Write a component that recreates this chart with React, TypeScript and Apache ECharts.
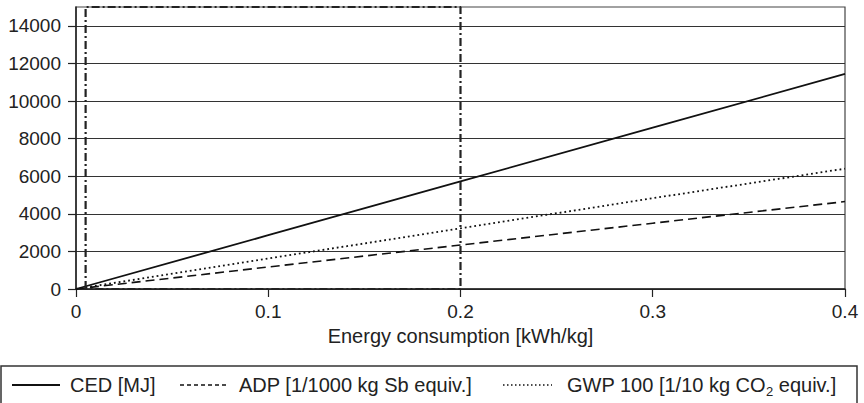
import React, { useEffect, useRef } from "react";
import * as echarts from "echarts";

// Energy consumption [kWh/kg]
const xValues = [0, 0.1, 0.2, 0.3, 0.4];
const cedValues = [0, 2860, 5720, 8580, 11440];
const adpValues = [0, 1170, 2340, 3500, 4650];
const gwpValues = [0, 1620, 3230, 4830, 6400];

// dash-dot frame region
const frameX = [0.005, 0.2];
const frameY = [0, 15000];

const yTicks = [0, 2000, 4000, 6000, 8000, 10000, 12000, 14000];
const xTicks = [0, 0.1, 0.2, 0.3, 0.4];

const legendLabels = ["CED [MJ]", "ADP [1/1000 kg Sb equiv.]", "GWP 100 [1/10 kg CO{sub|2} equiv.]"];

const FONT = "'Liberation Sans', Arial, Helvetica, sans-serif";
const TXT = "#222";

export default function App() {
  const ref = useRef<HTMLDivElement>(null);
  useEffect(() => {
    if (!ref.current) return;
    const chart = echarts.init(ref.current, undefined, { renderer: "svg" });
    const pairs = (ys: number[]) => xValues.map((x, i) => [x, ys[i]]);
    const frame = [
      [frameX[0], frameY[0]],
      [frameX[0], frameY[1]],
      [frameX[1], frameY[1]],
      [frameX[1], frameY[0]],
      [frameX[0], frameY[0]],
    ];
    const legendY = 385;
    const items = [
      { x1: 12, x2: 60, tx: 70, dash: null as any, w: 1.8 },
      { x1: 180, x2: 228, tx: 239, dash: [4, 3], w: 1.4 },
      { x1: 503, x2: 552, tx: 567, dash: [1.5, 2.5], w: 1.5 },
    ];
    const graphic: any[] = [
      {
        type: "rect",
        shape: { x: 1, y: 366, width: 856, height: 60 },
        style: { fill: "none", stroke: "#333", lineWidth: 1.5 },
      },
    ];
    items.forEach((it, i) => {
      graphic.push({
        type: "line",
        shape: { x1: it.x1, y1: legendY, x2: it.x2, y2: legendY },
        style: { stroke: "#111", lineWidth: it.w, lineDash: it.dash || undefined },
      });
      graphic.push({
        type: "text",
        x: it.tx,
        y: legendY,
        style: {
          text: legendLabels[i],
          fill: TXT,
          fontSize: 20,
          fontFamily: FONT,
          verticalAlign: "middle",
          align: "left",
          rich: {
            sub: { fontSize: 13, fontFamily: FONT, fill: TXT, verticalAlign: "bottom", padding: [12, 0, 0, 0] },
          },
        },
      });
    });

    chart.setOption({
      animation: false,
      grid: {
        left: 76,
        right: 19,
        top: 7,
        bottom: 114,
        show: true,
        borderColor: "#444",
        borderWidth: 1.2,
      },
      xAxis: {
        type: "value",
        min: 0,
        max: 0.4,
        interval: 0.1,
        name: "Energy consumption [kWh/kg]",
        nameLocation: "middle",
        nameGap: 30,
        nameTextStyle: { fontSize: 20, fontFamily: FONT, color: TXT },
        axisLine: { show: true, lineStyle: { color: "#222", width: 1.5 } },
        axisTick: { show: true, length: 8, lineStyle: { color: "#222", width: 1.2 }, customValues: xTicks },
        axisLabel: { fontSize: 19, fontFamily: FONT, color: TXT, margin: 13, customValues: xTicks },
        splitLine: { show: false },
      },
      yAxis: {
        type: "value",
        min: 0,
        max: 15000,
        interval: 2000,
        axisLine: { show: true, lineStyle: { color: "#222", width: 1.5 } },
        axisTick: { show: true, length: 8, lineStyle: { color: "#222", width: 1.2 }, customValues: yTicks },
        axisLabel: {
          fontSize: 19,
          fontFamily: FONT,
          color: TXT,
          margin: 15,
          customValues: yTicks,
          formatter: (v: number) => String(v),
        },
        splitLine: { show: true, lineStyle: { color: "#333", width: 1 } },
      },
      series: [
        {
          type: "line",
          data: frame,
          symbol: "none",
          lineStyle: { color: "#222", width: 2.2, type: [8, 3, 2, 3] },
          z: 5,
        },
        {
          name: "CED [MJ]",
          type: "line",
          data: pairs(cedValues),
          symbol: "none",
          lineStyle: { color: "#111", width: 1.8, type: "solid" },
        },
        {
          name: "ADP",
          type: "line",
          data: pairs(adpValues),
          symbol: "none",
          lineStyle: { color: "#111", width: 1.6, type: [9, 5] },
        },
        {
          name: "GWP",
          type: "line",
          data: pairs(gwpValues),
          symbol: "none",
          lineStyle: { color: "#111", width: 1.8, type: [1.8, 3] },
        },
      ],
      graphic,
    });
    return () => chart.dispose();
  }, []);
  return (
    <div
      ref={ref}
      style={{ position: "fixed", left: 0, top: 0, width: 864, height: 403, background: "#fff" }}
    />
  );
}
